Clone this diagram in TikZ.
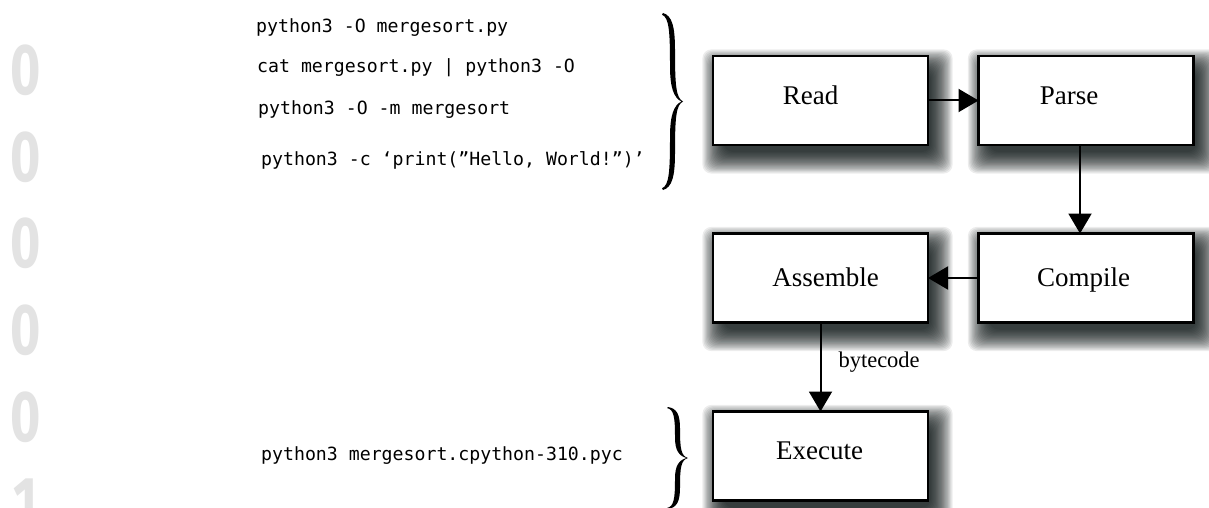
\documentclass[tikz,border=0pt]{standalone}
\usepackage{fontspec}
\setmainfont{Liberation Serif}
\newfontfamily\codefont{DejaVu Sans Mono}
\newfontfamily\digitfont{Fira Sans}
\usetikzlibrary{arrows.meta,backgrounds}

\tikzset{
  stage/.style={draw, line width=2.2pt, fill=white, minimum width=215pt,
    minimum height=89pt, inner sep=0pt, outer sep=0pt},
  shadow layer/.style={fill=black!92!teal, opacity=0.075, rounded corners=9pt},
  stagetext/.style={font=\fontsize{27}{32}\selectfont, inner sep=0pt, anchor=base},
  flow/.style={line width=2pt, -{Triangle[length=20pt,width=23pt]}},
  cmd/.style={font=\codefont\fontsize{18.2}{22}\selectfont, inner sep=0pt, anchor=base west},
  flowlabel/.style={font=\fontsize{22.5}{27}\selectfont, inner sep=0pt},
  margin digit/.style={font=\digitfont\bfseries\fontsize{72}{72}\selectfont,
    text=black!11, inner sep=0pt},
  % tapered curly brace; local y runs 0 (top) .. 1 (tip) .. 2 (bottom)
  curly/.pic={
    \fill (1,0) .. controls (10,0.03) and (13,0.15) .. (13,0.42)
      .. controls (13,0.82) and (14,0.96) .. (21,1)
      .. controls (14,1.04) and (13,1.18) .. (13,1.58)
      .. controls (13,1.85) and (10,1.97) .. (1,2)
      -- (0,1.98) .. controls (7,1.95) and (8,1.8) .. (8,1.4)
      .. controls (8,1.15) and (12,1.04) .. (19.5,1)
      .. controls (12,0.96) and (8,0.85) .. (8,0.6)
      .. controls (8,0.2) and (7,0.05) .. (0,0.02) -- cycle;
  }
}

\begin{document}
\begin{tikzpicture}[x=1pt, y=-1pt]
  \useasboundingbox (0,0) rectangle (1209,508);
  \clip (0,0) rectangle (1209,508);

  % faint page numbers down the left edge
  \foreach \d/\yy [count=\i] in {0/70, 0/157, 0/243, 0/330, 0/417, 1/503}
    \node[margin digit] (digit\i) at (26,\yy) {\scalebox{0.72}[1]{\d}};

  % command lines
  \node[cmd] (c1) at (256,33)  {python3 -O mergesort.py};
  \node[cmd] (c2) at (257,73)  {cat mergesort.py | python3 -O};
  \node[cmd] (c3) at (258,115) {python3 -O -m mergesort};
  \node[cmd] (c4) at (261,165) {python3 -c ‘print(”Hello, World!”)’};
  \node[cmd] (c5) at (261,460) {python3 mergesort.cpython-310.pyc};

  % braces grouping the commands
  \pic[yscale=88.5] at (662,13) {curly};
  \pic[yscale=51] at (667,407) {curly};

  % pipeline stages
  \node[stage] (read)     at (820.5,100.5) {};
  \node[stage] (parse)    at (1086,100.5)  {};
  \node[stage] (compile)  at (1086,278)    {};
  \node[stage] (assemble) at (820.5,278)   {};
  \node[stage] (execute)  at (820.5,456)   {};

  \node[stagetext] (readtxt)     at (810.5,105) {Read};
  \node[stagetext] (parsetxt)    at (1069,105)  {Parse};
  \node[stagetext] (compiletxt)  at (1083.5,286) {Compile};
  \node[stagetext] (assembletxt) at (825.5,286) {Assemble};
  \node[stagetext] (executetxt)  at (819.5,459) {Execute};

  % soft drop shadows, built from stacked translucent rectangles
  \begin{scope}[on background layer]
    \fill[white] (0,0) rectangle (1209,508);
    \foreach \n in {read,parse,compile,assemble,execute}
      \foreach \e in {-4,-2.8,...,18}
        \fill[shadow layer] ([shift={(7-\e,11-\e)}]\n.north west)
          rectangle ([shift={(7+\e,11+\e)}]\n.south east);
  \end{scope}

  % connectors
  \draw[flow] (read.east) -- (parse.west);
  \draw[flow] ([xshift=-6pt]parse.south) -- ([xshift=-6pt]compile.north);
  \draw[flow] (compile.west) -- (assemble.east);
  \draw[flow] (assemble.south) -- node[flowlabel, anchor=base west, xshift=17pt] (bc) {bytecode} (execute.north);
\end{tikzpicture}
\end{document}
